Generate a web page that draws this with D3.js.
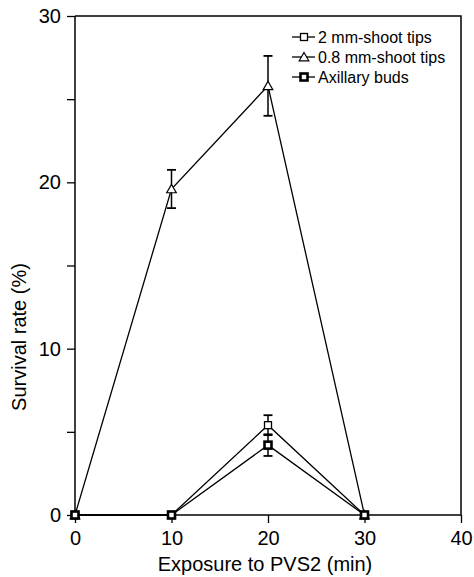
<!DOCTYPE html>
<html>
<head>
<meta charset="utf-8">
<script src="https://cdn.jsdelivr.net/npm/d3@7"></script>
<style>
  html, body { margin: 0; padding: 0; background: #fff; }
  svg { display: block; font-family: "Liberation Sans", Arial, Helvetica, sans-serif; }
</style>
</head>
<body>
<svg id="chart" width="474" height="577"></svg>
<script>
// Exposure time to PVS2 (min)
const exposure = [0, 10, 20, 30];

// Survival rate (%) per explant type, with standard errors
const tips2mm = [0, 0, 5.4, 0];
const tips2mmErr = [null, null, 0.6, null];
const tips08mm = [0, 19.6, 25.8, 0];
const tips08mmErr = [null, 1.15, 1.8, null];
const axillary = [0, 0, 4.2, 0];
const axillaryErr = [null, null, 0.65, null];

const seriesNames = ["2 mm-shoot tips", "0.8 mm-shoot tips", "Axillary buds"];
const xTicks = [0, 10, 20, 30, 40];
const yTicks = [0, 10, 20, 30];
const yMinorTicks = [0, 5, 10, 15, 20, 25, 30];

const svg = d3.select("#chart");
const plotLeft = 75, plotRight = 461, plotTop = 16, plotBottom = 515;

const x = d3.scaleLinear().domain([0, 40]).range([plotLeft, plotRight]);
const y = d3.scaleLinear().domain([0, 30]).range([plotBottom, plotTop]);

// Frame (top and right edges)
svg.append("path")
  .attr("d", `M${plotLeft},${plotTop}H${plotRight}V${plotBottom}`)
  .attr("fill", "none").attr("stroke", "#000").attr("stroke-width", 1.5);

// X axis
const xAxis = svg.append("g").attr("transform", `translate(0,${plotBottom})`)
  .call(d3.axisBottom(x).tickValues(xTicks).tickSize(8).tickPadding(8).tickFormat(d3.format("d")));
xAxis.select(".domain").attr("stroke-width", 1.5).attr("d", `M${plotLeft},0H${plotRight}`);
xAxis.selectAll(".tick line").attr("stroke-width", 1.3);
xAxis.selectAll("text").attr("font-size", 20).attr("font-family", "Liberation Sans, Arial, sans-serif").attr("fill", "#000");

// Y axis: minor ticks every 5, labels every 10
const yAxis = svg.append("g").attr("transform", `translate(${plotLeft},0)`)
  .call(d3.axisLeft(y).tickValues(yMinorTicks).tickSize(8).tickPadding(6)
    .tickFormat(d => yTicks.includes(d) ? d3.format("d")(d) : ""));
yAxis.select(".domain").attr("stroke-width", 1.5).attr("d", `M0,${plotBottom}V${plotTop}`);
yAxis.selectAll(".tick line").attr("stroke-width", 1.3);
yAxis.selectAll("text").attr("font-size", 20).attr("font-family", "Liberation Sans, Arial, sans-serif").attr("fill", "#000");

// Axis titles
svg.append("text")
  .attr("x", (plotLeft + plotRight) / 2 - 3).attr("y", 571)
  .attr("text-anchor", "middle").attr("font-size", 20)
  .text("Exposure to PVS2 (min)");
svg.append("text")
  .attr("transform", `translate(26,337) rotate(-90)`)
  .attr("text-anchor", "middle").attr("font-size", 20)
  .text("Survival rate (%)");

const series = [
  { name: seriesNames[0], values: tips2mm, err: tips2mmErr, marker: "square" },
  { name: seriesNames[1], values: tips08mm, err: tips08mmErr, marker: "triangle" },
  { name: seriesNames[2], values: axillary, err: axillaryErr, marker: "filled" }
];

const line = d3.line().x(d => x(d[0])).y(d => y(d[1]));

function drawMarker(g, cx, cy, type) {
  if (type === "square") {
    g.append("rect").attr("x", cx - 3.5).attr("y", cy - 3.5).attr("width", 7).attr("height", 7)
      .attr("fill", "#fff").attr("stroke", "#000").attr("stroke-width", 1.3);
  } else if (type === "triangle") {
    g.append("path").attr("d", d3.symbol(d3.symbolTriangle, 40)())
      .attr("transform", `translate(${cx},${cy + 1})`)
      .attr("fill", "#fff").attr("stroke", "#000").attr("stroke-width", 1.2);
  } else {
    g.append("rect").attr("x", cx - 3.5).attr("y", cy - 3.5).attr("width", 7).attr("height", 7)
      .attr("fill", "#fff").attr("stroke", "#000").attr("stroke-width", 2.6);
  }
}

series.forEach(s => {
  const g = svg.append("g");
  const pts = exposure.map((t, i) => [t, s.values[i]]);
  g.append("path").datum(pts).attr("d", line)
    .attr("fill", "none").attr("stroke", "#000").attr("stroke-width", 1.3);
  // Error bars
  pts.forEach((p, i) => {
    const e = s.err[i];
    if (e == null) return;
    const cx = x(p[0]), y1 = y(p[1] + e), y0 = y(p[1] - e);
    g.append("line").attr("x1", cx).attr("x2", cx).attr("y1", y1).attr("y2", y0)
      .attr("stroke", "#000").attr("stroke-width", 1.5);
    [y1, y0].forEach(yy => g.append("line").attr("x1", cx - 4.5).attr("x2", cx + 4.5)
      .attr("y1", yy).attr("y2", yy).attr("stroke", "#000").attr("stroke-width", 1.8));
  });
  pts.forEach(p => drawMarker(g, x(p[0]), y(p[1]), s.marker));
});

// Legend
const legend = svg.append("g");
series.forEach((s, i) => {
  const ly = 37 + i * 20;
  legend.append("line").attr("x1", 292).attr("x2", 315).attr("y1", ly).attr("y2", ly)
    .attr("stroke", "#000").attr("stroke-width", 1.3);
  drawMarker(legend, 304, ly, s.marker);
  legend.append("text").attr("x", 318).attr("y", ly + 6).attr("font-size", 16).text(s.name);
});
</script>
</body>
</html>
